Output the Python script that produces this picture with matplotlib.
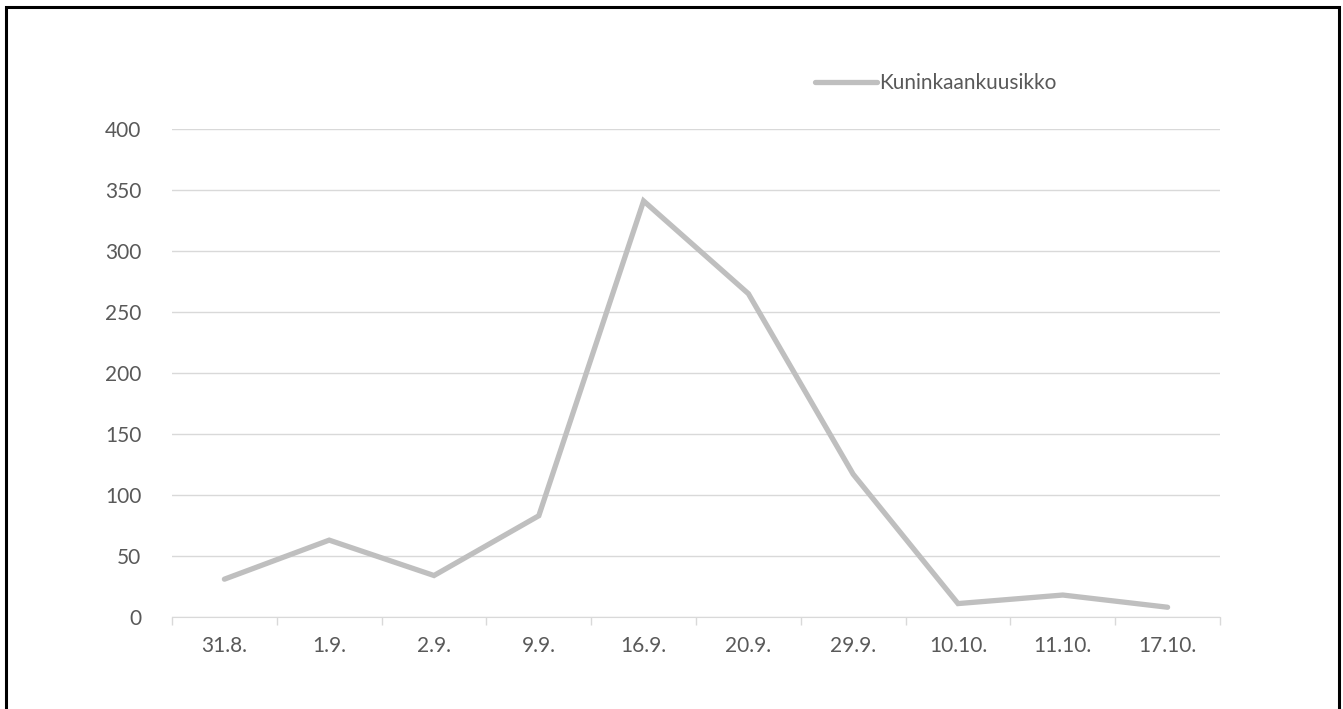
import matplotlib.pyplot as plt
import numpy as np
from matplotlib.patches import Rectangle

dates = ['31.8.', '1.9.', '2.9.', '9.9.', '16.9.', '20.9.', '29.9.', '10.10.', '11.10.', '17.10.']
counts = [31, 63, 34, 83, 341, 265, 117, 11, 18, 8]
series_name = 'Kuninkaankuusikko'
yticks = [0, 50, 100, 150, 200, 250, 300, 350, 400]

plt.rcParams['font.family'] = ['Lato', 'DejaVu Sans']
txt = '#595959'

W, H = 1343, 709
fig = plt.figure(figsize=(W / 100, H / 100), dpi=100)
# axes placed in pixel coords of the reference
x0, x1, ytop, ybot = 172, 1220, 129, 617
ax = fig.add_axes([x0 / W, 1 - ybot / H, (x1 - x0) / W, (ybot - ytop) / H])

idx = np.arange(len(dates))
line, = ax.plot(idx, counts, color='#BFBFBF', lw=3.8, solid_capstyle='round',
                solid_joinstyle='miter', label=series_name)

ax.set_xlim(-0.5, len(dates) - 0.5)
ax.set_ylim(0, 400)
ax.set_yticks(yticks)
ax.set_yticklabels([str(v) for v in yticks], fontsize=15, color=txt)
ax.grid(axis='y', color='#D9D9D9', lw=1)
ax.set_axisbelow(True)
ax.tick_params(axis='y', length=0, pad=22)

ax.set_xticks(idx)
ax.set_xticklabels(dates, fontsize=15, color=txt)
ax.tick_params(axis='x', length=0, pad=14)
# separators between categories
ax.set_xticks(np.arange(-0.5, len(dates), 1), minor=True)
ax.tick_params(axis='x', which='minor', length=6, color='#D9D9D9', width=1)

for s in ['top', 'right', 'left']:
    ax.spines[s].set_visible(False)
ax.spines['bottom'].set_color('#D9D9D9')

leg = ax.legend(handles=[line], loc='center left',
                bbox_to_anchor=((815 - x0) / (x1 - x0), 1 + (ytop - 83) / (ybot - ytop)),
                frameon=False, fontsize=15, handlelength=3.0, handletextpad=0.1,
                borderpad=0, borderaxespad=0)
for t in leg.get_texts():
    t.set_color(txt)

# outer black frame, bottom edge falls off the image
fig.patches.append(Rectangle((6 / W, -0.05), (1339 - 6) / W, 1.05 - 7 / H, transform=fig.transFigure,
                             fill=False, edgecolor='black', lw=2.2))

fig.savefig('out.png', dpi=100)
